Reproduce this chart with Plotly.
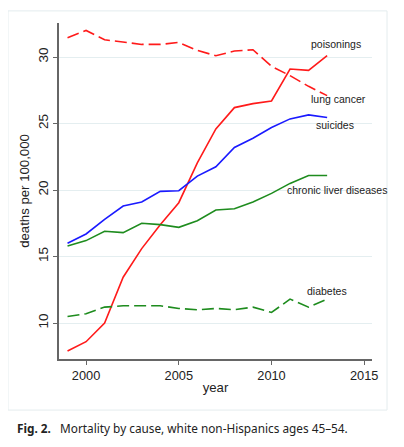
import plotly.graph_objects as go

YEARS = list(range(1999, 2014))

POISONINGS = [7.9, 8.6, 10.0, 13.45, 15.6, 17.4, 19.05, 22.05, 24.6, 26.2, 26.5, 26.7, 29.1, 29.0, 30.1]
LUNG_CANCER = [31.45, 32.0, 31.3, 31.1, 30.95, 30.95, 31.1, 30.5, 30.1, 30.45, 30.55, 29.3, 28.6, 27.8, 27.1]
SUICIDES = [16.0, 16.7, 17.8, 18.8, 19.1, 19.9, 19.95, 21.05, 21.75, 23.2, 23.9, 24.7, 25.35, 25.65, 25.45]
LIVER = [15.8, 16.2, 16.9, 16.8, 17.5, 17.4, 17.2, 17.7, 18.5, 18.6, 19.1, 19.75, 20.5, 21.1, 21.1]
DIABETES = [10.5, 10.7, 11.2, 11.3, 11.3, 11.3, 11.1, 11.0, 11.1, 11.0, 11.2, 10.8, 11.8, 11.2, 11.8]

X_TICKS = [2000, 2005, 2010, 2015]
Y_TICKS = [10, 15, 20, 25, 30]

RED = "#ff1a1a"
BLUE = "#1a1aff"
GREEN = "#1e8c1e"

series = [
    ("poisonings", POISONINGS, RED, "solid"),
    ("lung cancer", LUNG_CANCER, RED, "12px,5px"),
    ("suicides", SUICIDES, BLUE, "solid"),
    ("chronic liver diseases", LIVER, GREEN, "solid"),
    ("diabetes", DIABETES, GREEN, "12px,5px"),
]

fig = go.Figure()
for name, vals, color, dash in series:
    fig.add_trace(go.Scatter(
        x=YEARS, y=vals, mode="lines", name=name,
        line=dict(color=color, width=1.6, dash=dash),
    ))

# labels placed next to series ends
labels = [
    ("poisonings", 2013.5, 31.0),
    ("lung cancer", 2013.6, 26.85),
    ("suicides", 2013.4, 24.9),
    ("chronic liver diseases", 2013.55, 20.0),
    ("diabetes", 2013.0, 12.45),
]
for text, x, y in labels:
    fig.add_annotation(x=x, y=y, text=text, showarrow=False,
                       font=dict(size=10.5, color="#222222"))

fig.add_annotation(
    x=-0.14, y=-0.205, xref="paper", yref="paper", xanchor="left", yanchor="middle",
    text="<b>Fig. 2.</b>   Mortality by cause, white non-Hispanics ages 45–54.",
    showarrow=False, font=dict(family="Noto Sans", size=11.8, color="#222222"),
)

fig.add_shape(type="rect", xref="paper", yref="paper",
              x0=-0.163, x1=1.048, y0=-0.152, y1=1.036,
              line=dict(color="#e4ecee", width=1), layer="below")

# page body has an 8px margin, so the figure is shifted by that much
fig.update_layout(
    width=396, height=439,
    margin=dict(l=51, r=32, t=15, b=88),
    plot_bgcolor="white", paper_bgcolor="white",
    showlegend=False,
    font=dict(family="Liberation Sans, Arial", size=12.5, color="#222222"),
    xaxis=dict(
        range=[1998.54, 2015.42], tickvals=X_TICKS, showgrid=False,
        showline=True, linecolor="#666666", linewidth=1.5,
        ticks="outside", ticklen=4, tickcolor="#666666",
        tickfont=dict(size=12.8),
        title=dict(text="year", standoff=1, font=dict(size=13.2)), zeroline=False,
    ),
    yaxis=dict(
        range=[7.3, 32.56], tickvals=Y_TICKS, tickangle=-90,
        showgrid=True, gridcolor="#e4eef0", gridwidth=1,
        showline=True, linecolor="#666666", linewidth=1.5,
        ticks="outside", ticklen=4, tickcolor="#666666",
        tickfont=dict(size=13.5),
        title=dict(text="deaths per 100,000", standoff=3, font=dict(size=13.2)), zeroline=False,
    ),
)

fig.write_html("out.html")
